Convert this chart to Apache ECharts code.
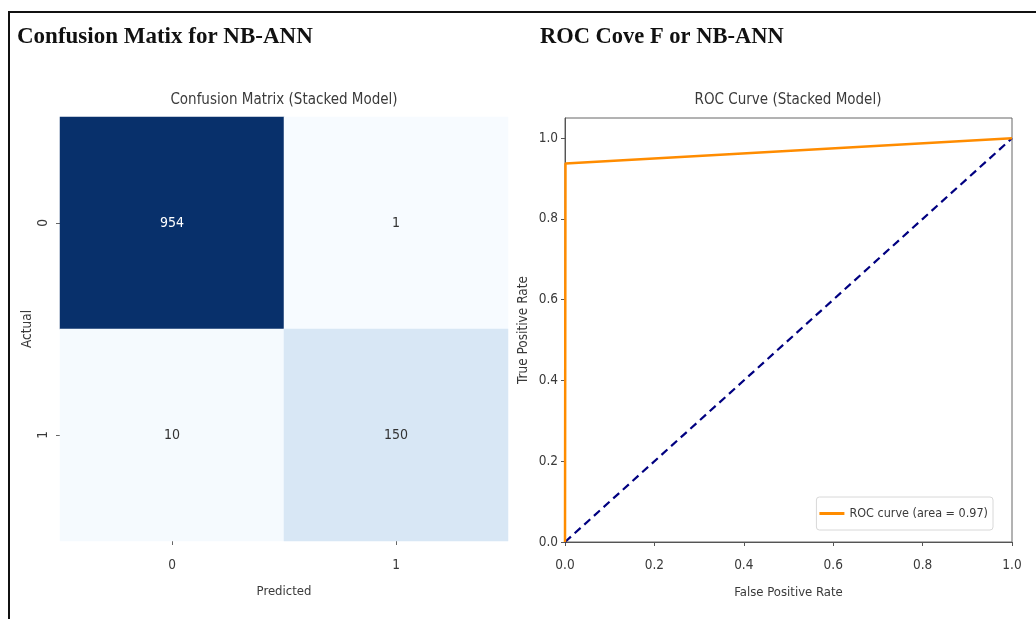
<!DOCTYPE html>
<html>
<head>
<meta charset="utf-8">
<script src="https://cdn.jsdelivr.net/npm/echarts@6/dist/echarts.min.js"></script>
<style>
  html, body { margin: 0; padding: 0; background: #fff; }
  #chart { width: 1036px; height: 619px; }
</style>
</head>
<body>
<div id="chart"></div>
<script>
// Confusion matrix (rows = actual, columns = predicted)
const classLabels = ['0', '1'];
const confusionCells = [
  // [predicted, actual, count]
  [0, 0, 954],
  [1, 0, 1],
  [0, 1, 10],
  [1, 1, 150]
];

// ROC curve points (false positive rate, true positive rate)
const rocFpr = [0.0, 0.00105, 1.0];
const rocTpr = [0.0, 0.9375, 1.0];
const chanceFpr = [0.0, 1.0];
const chanceTpr = [0.0, 1.0];
const rocArea = 0.97;
const rateTicks = [0, 0.2, 0.4, 0.6, 0.8, 1.0];

const FONT = "'DejaVu Sans Condensed', 'Liberation Sans Narrow', 'DejaVu Sans', sans-serif";
const SERIF = "'Liberation Serif', 'DejaVu Serif', serif";
const TXT = '#3a3a3a';

const blues = ['#f7fbff', '#deebf7', '#c6dbef', '#9ecae1', '#6baed6',
               '#4292c6', '#2171b5', '#08519c', '#08306b'];
const maxCount = Math.max(...confusionCells.map(c => c[2]));

const rocName = 'ROC curve (area = ' + rocArea.toFixed(2) + ')';

const chart = echarts.init(document.getElementById('chart'), null, { renderer: 'canvas' });

chart.setOption({
  animation: false,
  backgroundColor: '#ffffff',
  textStyle: { fontFamily: FONT },
  graphic: [
    // page frame
    { type: 'polyline', silent: true,
      shape: { points: [[9, 619], [9, 12], [1036, 12]] },
      style: { stroke: '#111', lineWidth: 2, fill: null } },
    { type: 'text', x: 17, y: 37,
      style: { text: 'Confusion Matix for NB-ANN', font: 'bold 23px ' + SERIF,
               fill: '#111', verticalAlign: 'middle', align: 'left' } },
    { type: 'text', x: 540, y: 37,
      style: { text: 'ROC Cove F or NB-ANN', font: 'bold 22.5px ' + SERIF,
               fill: '#111', verticalAlign: 'middle', align: 'left' } },
    { type: 'text', x: 284, y: 100,
      style: { text: 'Confusion Matrix (Stacked Model)', font: '15px ' + FONT,
               fill: TXT, verticalAlign: 'middle', align: 'center' } },
    { type: 'text', x: 788, y: 100,
      style: { text: 'ROC Curve (Stacked Model)', font: '15px ' + FONT,
               fill: TXT, verticalAlign: 'middle', align: 'center' } }
  ],
  grid: [
    { left: 60, right: 528, top: 117, bottom: 78 },
    { left: 565, right: 24, top: 118, bottom: 77, show: true,
      borderColor: '#666', borderWidth: 1, backgroundColor: 'transparent' }
  ],
  visualMap: {
    show: false, seriesIndex: 0, dimension: 2,
    min: 0, max: maxCount, inRange: { color: blues }
  },
  xAxis: [
    {
      gridIndex: 0, type: 'category', data: classLabels,
      name: 'Predicted', nameLocation: 'middle', nameGap: 44,
      nameTextStyle: { color: TXT, fontSize: 13, fontFamily: FONT },
      axisLine: { show: false },
      axisTick: { show: true, alignWithLabel: true, length: 4, lineStyle: { color: '#666' } },
      axisLabel: { color: TXT, fontSize: 13.5, margin: 17, fontFamily: FONT },
      splitLine: { show: false }
    },
    {
      gridIndex: 1, type: 'value', min: 0, max: 1,
      name: 'False Positive Rate', nameLocation: 'middle', nameGap: 44,
      nameTextStyle: { color: TXT, fontSize: 13, fontFamily: FONT },
      axisLine: { show: true, lineStyle: { color: '#555' } },
      axisTick: { show: true, length: 4, customValues: rateTicks, lineStyle: { color: '#555' } },
      axisLabel: { color: TXT, fontSize: 13.5, margin: 16, fontFamily: FONT,
                   customValues: rateTicks, formatter: v => v.toFixed(1) },
      splitLine: { show: false }
    }
  ],
  yAxis: [
    {
      gridIndex: 0, type: 'category', data: classLabels, inverse: true,
      name: 'Actual', nameLocation: 'middle', nameGap: 26, nameRotate: 90,
      nameTextStyle: { color: TXT, fontSize: 13.5, fontFamily: FONT },
      axisLine: { show: false },
      axisTick: { show: true, alignWithLabel: true, length: 4, lineStyle: { color: '#666' } },
      axisLabel: { color: TXT, fontSize: 13.5, margin: 10, rotate: 90, fontFamily: FONT },
      splitLine: { show: false }
    },
    {
      gridIndex: 1, type: 'value', min: 0, max: 1.05,
      name: 'True Positive Rate', nameLocation: 'middle', nameGap: 35, nameRotate: 90,
      nameTextStyle: { color: TXT, fontSize: 13.5, fontFamily: FONT },
      axisLine: { show: true, lineStyle: { color: '#555' } },
      axisTick: { show: true, length: 4, customValues: rateTicks, lineStyle: { color: '#555' } },
      axisLabel: { color: TXT, fontSize: 13.5, margin: 7, fontFamily: FONT,
                   customValues: rateTicks, formatter: v => v.toFixed(1) },
      splitLine: { show: false }
    }
  ],
  legend: {
    data: [{ name: rocName, icon: 'rect' }],
    right: 43, top: 497,
    orient: 'vertical',
    backgroundColor: '#fff',
    borderColor: '#d8d8d8', borderWidth: 1, borderRadius: 3,
    padding: [10, 5, 10, 3],
    itemWidth: 25, itemHeight: 3, itemGap: 6,
    textStyle: { color: TXT, fontSize: 12.5, fontFamily: FONT }
  },
  series: [
    {
      type: 'heatmap', xAxisIndex: 0, yAxisIndex: 0,
      data: confusionCells.map(c => ({
        value: c,
        // white label on the dark cell, dark labels on the pale cells
        label: { color: c[2] > maxCount / 2 ? '#ffffff' : '#333333' }
      })),
      itemStyle: { borderWidth: 0 },
      label: {
        show: true, fontSize: 14, fontFamily: FONT,
        formatter: p => String(p.value[2])
      },
      emphasis: { disabled: true }
    },
    {
      name: 'chance', type: 'line', xAxisIndex: 1, yAxisIndex: 1,
      data: chanceFpr.map((x, i) => [x, chanceTpr[i]]),
      symbol: 'none', z: 3,
      lineStyle: { color: '#000080', width: 2.2, type: [8, 5] }
    },
    {
      name: rocName, type: 'line', xAxisIndex: 1, yAxisIndex: 1,
      data: rocFpr.map((x, i) => [x, rocTpr[i]]),
      symbol: 'none', z: 4,
      itemStyle: { color: '#ff8c00' },
      lineStyle: { color: '#ff8c00', width: 2.5 }
    }
  ]
});
</script>
</body>
</html>
